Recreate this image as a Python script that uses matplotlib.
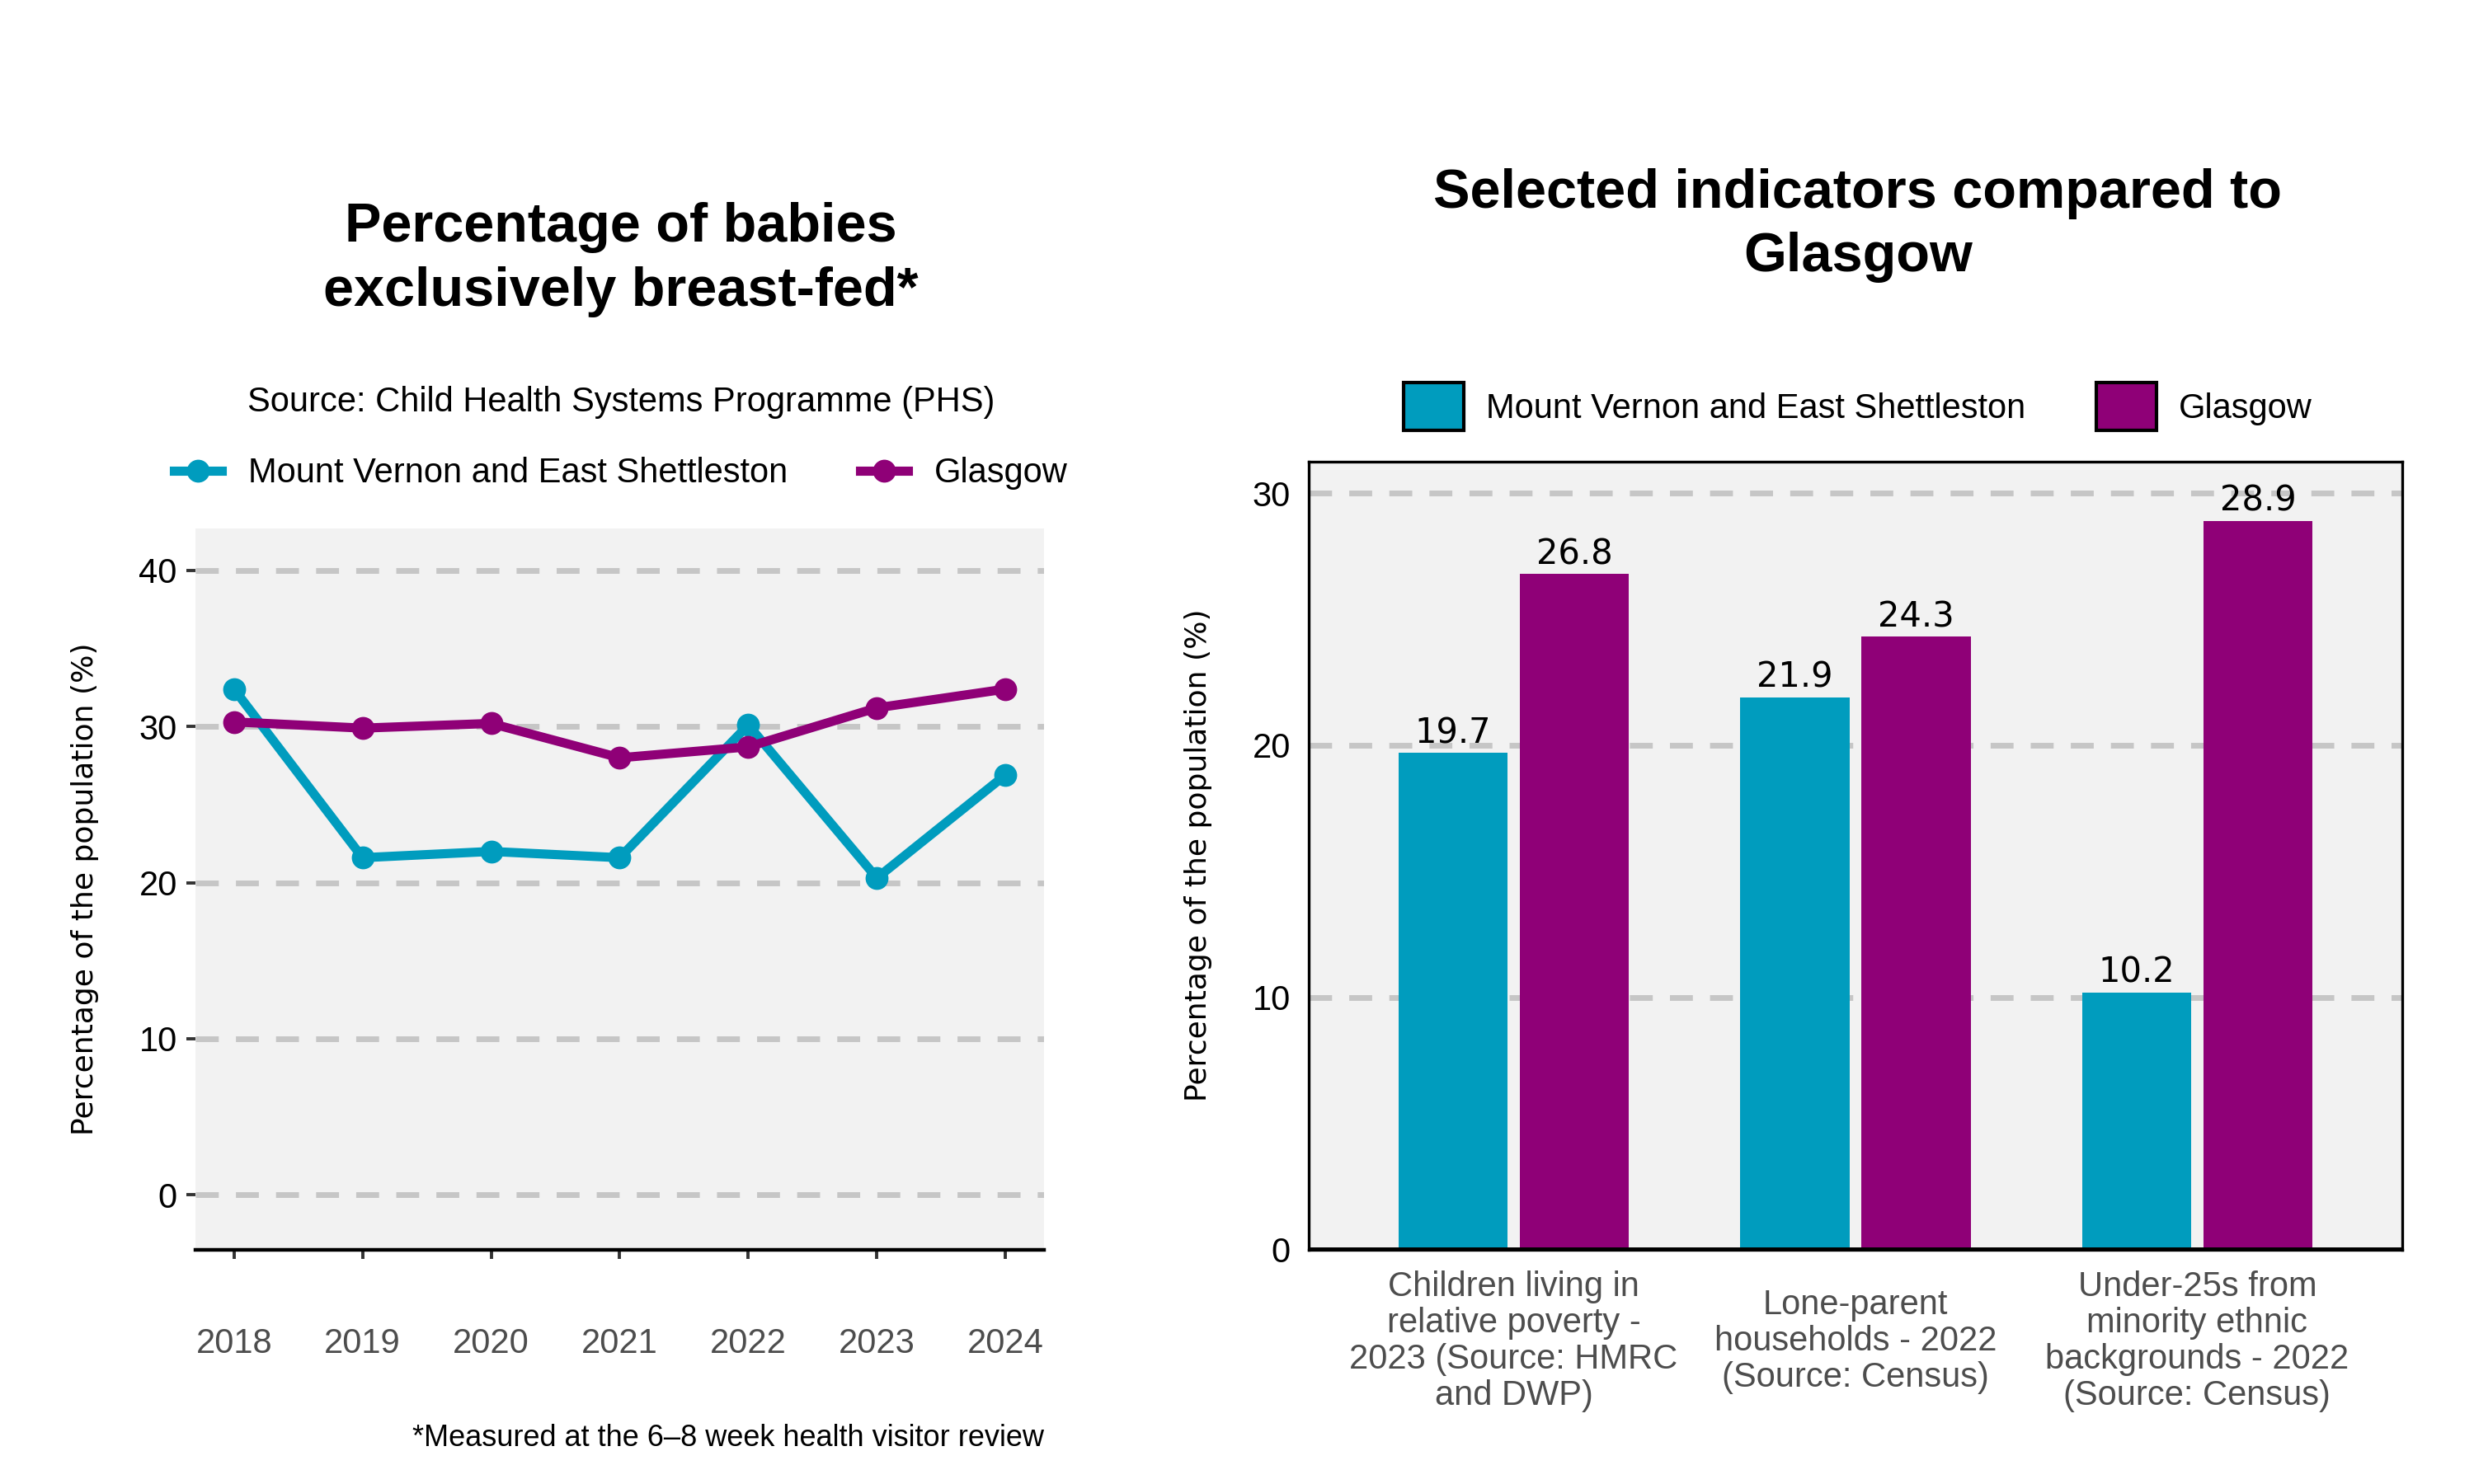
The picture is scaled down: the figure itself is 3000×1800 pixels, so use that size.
import matplotlib.pyplot as plt
import numpy as np

# Data.
years = [2018, 2019, 2020, 2021, 2022, 2023, 2024]
mount_vernon_bf = [32.4, 21.6, 22.0, 21.6, 30.1, 20.3, 26.9]
glasgow_bf = [30.3, 29.9, 30.2, 28.0, 28.7, 31.2, 32.4]

indicators = [
    "Children living in\nrelative poverty -\n2023 (Source: HMRC\nand DWP)",
    "Lone-parent\nhouseholds - 2022\n(Source: Census)",
    "Under-25s from\nminority ethnic\nbackgrounds - 2022\n(Source: Census)",
]
mount_vernon_ind = [19.7, 21.9, 10.2]
glasgow_ind = [26.8, 24.3, 28.9]

area_name = "Mount Vernon and East Shettleston"
TEAL = "#009CBE"
PURPLE = "#8F0077"
PANEL = "#F2F2F2"
GRID = "#C6C6C6"

plt.rcParams["font.family"] = ["Liberation Sans", "DejaVu Sans"]

fig = plt.figure(figsize=(15, 9), dpi=200)

# Left: line chart
ax1 = fig.add_axes([0.079, 0.158, 0.343, 0.486])
ax1.set_facecolor(PANEL)
ax1.plot(years, mount_vernon_bf, color=TEAL, lw=4, marker="o", ms=9, label=area_name, zorder=3)
ax1.plot(years, glasgow_bf, color=PURPLE, lw=4, marker="o", ms=9, label="Glasgow", zorder=3)
ax1.set_xlim(2017.7, 2024.3)
ax1.set_ylim(-3.5, 42.7)
ax1.set_yticks([0, 10, 20, 30, 40])
ax1.set_xticks(years)
ax1.yaxis.grid(True, color=GRID, lw=2.5, dashes=(4, 3))
ax1.set_axisbelow(True)
for s in ["top", "right", "left"]:
    ax1.spines[s].set_visible(False)
ax1.spines["bottom"].set_linewidth(1.6)
ax1.tick_params(axis="x", length=4, width=1.4, color="#333333", pad=30, labelsize=15, labelcolor="#4D4D4D")
ax1.tick_params(axis="y", length=4, width=1.4, color="#333333", pad=4, labelsize=15, labelcolor="black")
ax1.set_ylabel("Percentage of the population (%)", family="DejaVu Sans", fontsize=13, labelpad=17.5)

fig.text(0.251, 0.825, "Percentage of babies\nexclusively breast-fed*", ha="center", va="center",
         fontsize=24, fontweight="bold", linespacing=1.32)
fig.text(0.251, 0.729, "Source: Child Health Systems Programme (PHS)", ha="center", va="center", fontsize=15)
fig.legend(handles=ax1.get_lines(), loc="center", bbox_to_anchor=(0.251, 0.681), ncol=2, frameon=False,
           fontsize=15, handlelength=1.38, handletextpad=0.78, columnspacing=2.1)
fig.text(0.422, 0.0306, "*Measured at the 6\u20138 week health visitor review", ha="right", va="center", fontsize=13)

# Right: grouped bar chart
ax2 = fig.add_axes([0.529, 0.158, 0.442, 0.531])
ax2.set_facecolor(PANEL)
x = np.arange(len(indicators))
off, w = 0.1775, 0.32
b1 = ax2.bar(x - off, mount_vernon_ind, w, color=TEAL, label=area_name, zorder=3)
b2 = ax2.bar(x + off, glasgow_ind, w, color=PURPLE, label="Glasgow", zorder=3)
for bars, vals in [(b1, mount_vernon_ind), (b2, glasgow_ind)]:
    for rect, v in zip(bars, vals):
        ax2.annotate(f"{v}", (rect.get_x() + rect.get_width() / 2, v), xytext=(0, 1),
                     textcoords="offset points", ha="center", va="bottom", fontsize=15,
                     family="DejaVu Sans", zorder=4)
ax2.set_xlim(-0.6, 2.6)
ax2.set_ylim(0, 31.25)
ax2.set_yticks([0, 10, 20, 30])
ax2.set_xticks(x)
ax2.set_xticklabels(indicators, va="center", linespacing=1.13)
ax2.yaxis.grid(True, color=GRID, lw=2.5, dashes=(4, 3))
ax2.set_axisbelow(True)
ax2.axhline(0, color="black", lw=2.5, zorder=4)
for s in ax2.spines.values():
    s.set_color("black")
    s.set_linewidth(1.2)
ax2.tick_params(axis="x", length=0, pad=40, labelsize=15, labelcolor="#4D4D4D")
ax2.tick_params(axis="y", length=0, pad=8, labelsize=15, labelcolor="black")
ax2.set_ylabel("Percentage of the population (%)", family="DejaVu Sans", fontsize=13, labelpad=17.5)

fig.text(0.751, 0.848, "Selected indicators compared to\nGlasgow", ha="center", va="center",
         fontsize=24, fontweight="bold", linespacing=1.32)
leg2 = fig.legend(handles=[b1, b2], loc="center", bbox_to_anchor=(0.751, 0.726), ncol=2, frameon=False,
                  fontsize=15, handlelength=1.75, handleheight=1.75, handletextpad=0.64, columnspacing=2.07)
for p in leg2.get_patches():
    p.set_edgecolor("black")
    p.set_linewidth(1.5)

fig.savefig("out.png", dpi=200)
